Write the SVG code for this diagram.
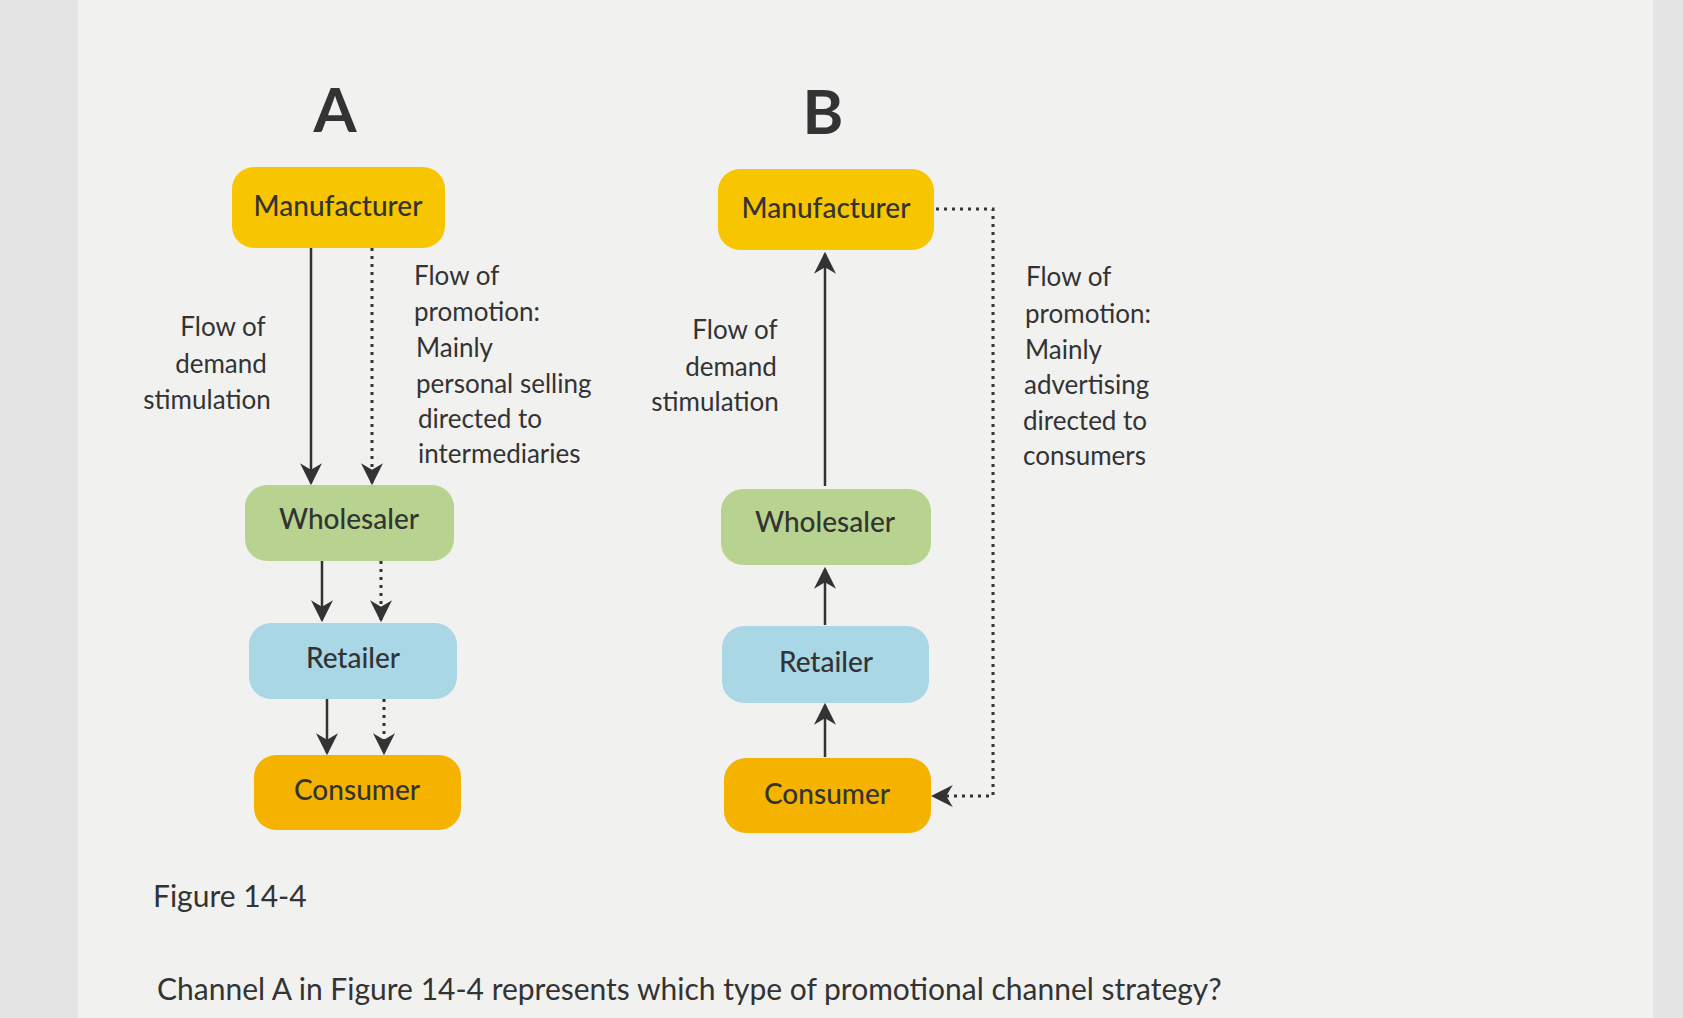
<svg xmlns="http://www.w3.org/2000/svg" width="1683" height="1018" viewBox="0 0 1683 1018">
<defs>
<style>
text{font-family:Lato,"Open Sans",sans-serif;fill:#333}
.n{font-size:28px;text-anchor:middle;font-weight:500}
.l{font-size:26px}
.c{text-anchor:middle}
.s{stroke:#333;stroke-width:2.5;fill:none}
.d{stroke:#333;stroke-width:3;fill:none;stroke-dasharray:3 5}
</style>
<marker id="ab" viewBox="0 0 10 10" refX="9" refY="5" markerWidth="22" markerHeight="22" markerUnits="userSpaceOnUse" orient="auto"><path d="M0,0 L10,5 L0,10 L3,5 z" fill="#333"/></marker>
</defs>
<rect width="1683" height="1018" fill="#e4e4e4"/>
<rect x="78" y="0" width="1575" height="1018" fill="#f1f1f0"/>
<text x="335" y="132" font-size="62" font-weight="bold" text-anchor="middle">A</text>
<text x="823" y="134" font-size="62" font-weight="bold" text-anchor="middle">B</text>
<g id="a-manufacturer"><rect x="232" y="167" width="213" height="81" rx="22" fill="#f7c600"/><text class="n" x="338" y="216">Manufacturer</text></g>
<g id="a-wholesaler"><rect x="245" y="485" width="209" height="76" rx="22" fill="#b8d38f"/><text class="n" x="349" y="529">Wholesaler</text></g>
<g id="a-retailer"><rect x="249" y="623" width="208" height="76" rx="22" fill="#a9d7e6"/><text class="n" x="353" y="668">Retailer</text></g>
<g id="a-consumer"><rect x="254" y="755" width="207" height="75" rx="22" fill="#f5b300"/><text class="n" x="357" y="800">Consumer</text></g>
<g id="b-manufacturer"><rect x="718" y="169" width="216" height="81" rx="22" fill="#f7c600"/><text class="n" x="826" y="218">Manufacturer</text></g>
<g id="b-wholesaler"><rect x="721" y="489" width="210" height="76" rx="22" fill="#b8d38f"/><text class="n" x="825" y="532">Wholesaler</text></g>
<g id="b-retailer"><rect x="722" y="626" width="207" height="77" rx="22" fill="#a9d7e6"/><text class="n" x="826" y="672">Retailer</text></g>
<g id="b-consumer"><rect x="724" y="758" width="207" height="75" rx="22" fill="#f5b300"/><text class="n" x="827" y="804">Consumer</text></g>
<g id="connectors">
<path class="s" d="M311,248 V483" marker-end="url(#ab)"/>
<path class="d" d="M372,248 V483" marker-end="url(#ab)"/>
<path class="s" d="M322,561 V620" marker-end="url(#ab)"/>
<path class="d" d="M381,561 V620" marker-end="url(#ab)"/>
<path class="s" d="M327,699 V753" marker-end="url(#ab)"/>
<path class="d" d="M384,699 V753" marker-end="url(#ab)"/>
<path class="s" d="M825,486 V254" marker-end="url(#ab)"/>
<path class="s" d="M825,625 V569" marker-end="url(#ab)"/>
<path class="s" d="M825,757 V705" marker-end="url(#ab)"/>
<path class="d" d="M936,209 H993 V796 H933" marker-end="url(#ab)"/>
</g>
<g id="labels" class="l">
<text class="c" x="223" y="336">Flow of</text><text class="c" x="221" y="373">demand</text><text class="c" x="207" y="409">stimulation</text>
<text x="414" y="285">Flow of</text><text x="414" y="321">promotion:</text><text x="416" y="357">Mainly</text><text x="416" y="393">personal selling</text><text x="418" y="428">directed to</text><text x="418" y="463">intermediaries</text>
<text class="c" x="735" y="339">Flow of</text><text class="c" x="731" y="376">demand</text><text class="c" x="715" y="411">stimulation</text>
<text x="1026" y="286">Flow of</text><text x="1025" y="323">promotion:</text><text x="1025" y="359">Mainly</text><text x="1024" y="394">advertising</text><text x="1023" y="430">directed to</text><text x="1023" y="465">consumers</text>
</g>
<text x="153" y="907" font-size="30">Figure 14-4</text>
<text x="157" y="1000" font-size="30">Channel A in Figure 14-4 represents which type of promotional channel strategy?</text>
</svg>
